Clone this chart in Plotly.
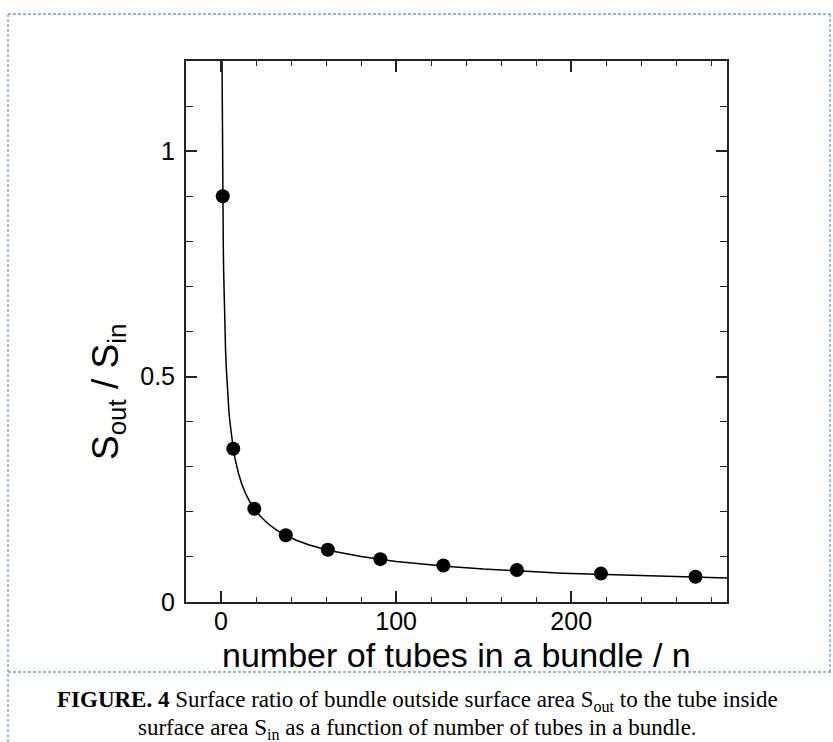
import plotly.graph_objects as go

# data
n_tubes = [1, 7, 19, 37, 61, 91, 127, 169, 217, 271]
ratio = [0.90, 0.34, 0.207, 0.148, 0.116, 0.095, 0.081, 0.071, 0.063, 0.056]

# fitted curve, points
curve_n = [0.56, 0.62, 0.7, 0.78, 0.85, 0.92, 1.0, 1.15, 1.3, 1.5, 1.7, 1.95, 2.2, 2.6, 3.0, 3.5, 4.0,
           4.5, 5.0, 6.0, 7.0, 8.0, 10.0, 12.0, 14.0, 16.5, 19.0, 23.0, 27.0, 32.0, 37.0, 43.0,
           50.0, 61.0, 70.0, 80.0, 100.0, 115.0, 130.0, 150.0, 170.0, 195.0, 220.0, 260.0, 290.0]
curve_y = [1.203, 1.143, 1.076, 1.019, 0.976, 0.938, 0.900, 0.839, 0.789, 0.735, 0.690, 0.645, 0.607,
           0.558, 0.520, 0.481, 0.450, 0.424, 0.402, 0.367, 0.340, 0.318, 0.285, 0.260, 0.241, 0.222,
           0.206, 0.188, 0.173, 0.159, 0.148, 0.137, 0.127, 0.115, 0.108, 0.101, 0.090, 0.084, 0.079,
           0.073, 0.069, 0.064, 0.061, 0.056, 0.053]

x_range = [-20, 289]
y_range = [0, 1.2]
x_ticks = [0, 100, 200]
y_ticks = [0, 0.5, 1]
y_tick_text = ["0", "0.5", "1"]

W, H = 833, 742
L, R, T, B = 186, 727, 61, 602
pw, ph = R - L, B - T


def px(x):
    return (x - L) / pw


def py(y):
    return (B - y) / ph


fig = go.Figure()
fig.add_trace(go.Scatter(x=curve_n, y=curve_y, mode="lines",
                         line=dict(color="black", width=1.5), hoverinfo="skip",
                         showlegend=False))
fig.add_trace(go.Scatter(x=n_tubes, y=ratio, mode="markers",
                         marker=dict(color="black", size=14), showlegend=False))

axis_common = dict(showline=True, linecolor="#222", linewidth=2, mirror="ticks",
                   ticks="inside", tickcolor="#222", tickwidth=1.5, ticklen=11,
                   showgrid=False, zeroline=False,
                   tickfont=dict(family="Liberation Sans, Arial", size=25, color="black"))

fig.update_xaxes(range=x_range, tickvals=x_ticks, ticktext=[str(v) for v in x_ticks],
                 minor=dict(ticks="inside", dtick=20, tick0=0, ticklen=5, tickcolor="#222",
                            tickwidth=1.2, showgrid=False),
                 ticklabelstandoff=-4, **axis_common)
fig.update_yaxes(range=y_range, tickvals=y_ticks, ticktext=y_tick_text,
                 minor=dict(ticks="inside", dtick=0.1, tick0=0, ticklen=7, tickcolor="#222",
                            tickwidth=1.2, showgrid=False),
                 ticklabelstandoff=4, **axis_common)

dash_color = "#6a9fdc"
shapes = []
for (x0, y0, x1, y1) in [(8, 14, 833, 14), (8, 14, 8, 742), (830, 14, 830, 672), (8, 672, 833, 672)]:
    shapes.append(dict(type="line", xref="paper", yref="paper",
                       x0=px(x0), y0=py(y0), x1=px(x1), y1=py(y1),
                       line=dict(color=dash_color, width=1.3, dash="3px,2px")))

annotations = [
    dict(text="number of tubes in a bundle / n", xref="paper", yref="paper",
         x=px(456), y=py(655), xanchor="center", yanchor="middle", showarrow=False,
         font=dict(family="Liberation Sans, Arial", size=34, color="black")),
    dict(text="S<sub>out</sub> / S<sub>in</sub>", xref="paper", yref="paper",
         x=px(108), y=py(392), xanchor="center", yanchor="middle", showarrow=False,
         textangle=-90,
         font=dict(family="Liberation Sans, Arial", size=37, color="black")),
    dict(text="<b>FIGURE. 4</b> Surface ratio of bundle outside surface area S<sub>out</sub> to the tube inside",
         xref="paper", yref="paper", x=px(417), y=py(701), xanchor="center", yanchor="middle",
         showarrow=False, font=dict(family="Liberation Serif, Times New Roman", size=23, color="black")),
    dict(text="surface area S<sub>in</sub> as a function of number of tubes in a bundle.",
         xref="paper", yref="paper", x=px(417), y=py(729), xanchor="center", yanchor="middle",
         showarrow=False, font=dict(family="Liberation Serif, Times New Roman", size=23, color="black")),
]

fig.update_layout(width=W, height=H, margin=dict(l=L, r=W - R, t=T, b=H - B),
                  paper_bgcolor="white", plot_bgcolor="white",
                  shapes=shapes, annotations=annotations, showlegend=False)

fig.write_html("out.html")
